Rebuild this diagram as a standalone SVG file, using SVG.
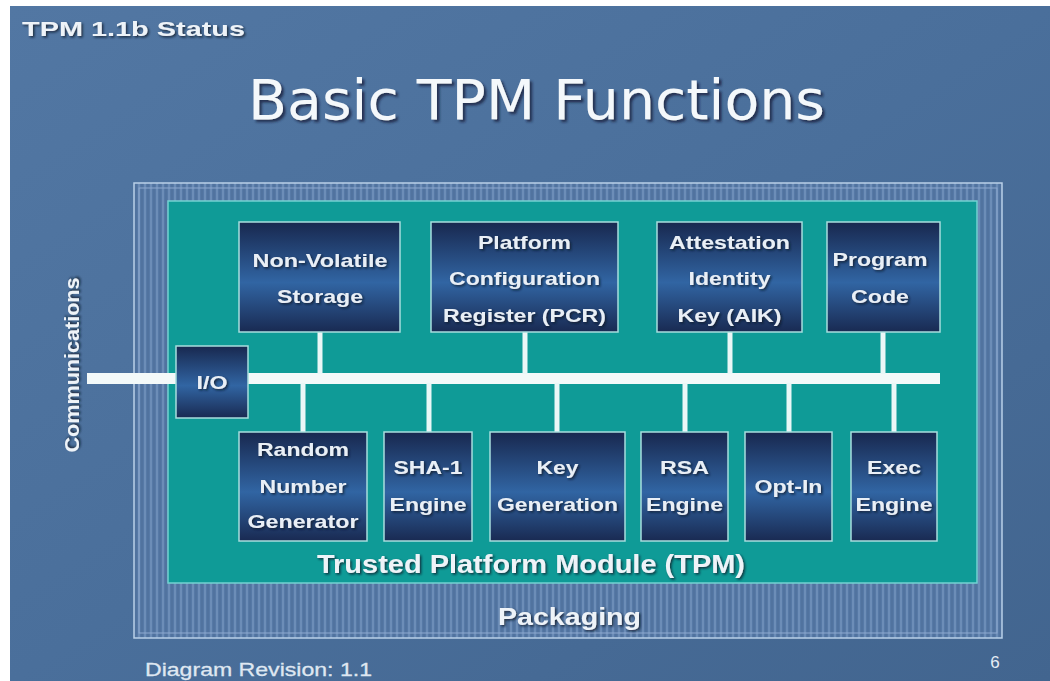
<svg xmlns="http://www.w3.org/2000/svg" width="1050" height="681" viewBox="0 0 1050 681">
  <defs>
    <linearGradient id="bg" x1="0" y1="0" x2="1" y2="1">
      <stop offset="0" stop-color="#5277a3"/>
      <stop offset="0.5" stop-color="#4a6f9b"/>
      <stop offset="1" stop-color="#42658f"/>
    </linearGradient>
    <linearGradient id="boxg" x1="0" y1="0" x2="0" y2="1">
      <stop offset="0" stop-color="#18284f"/>
      <stop offset="0.55" stop-color="#3165a3"/>
      <stop offset="1" stop-color="#192a52"/>
    </linearGradient>
    <pattern id="stripes" width="6" height="6" patternUnits="userSpaceOnUse">
      <rect width="6" height="6" fill="#5679a6"/>
      <line x1="1" y1="0" x2="1" y2="6" stroke="#82a1c8" stroke-width="1"/>
      <line x1="4" y1="0" x2="4" y2="6" stroke="#4b6d98" stroke-width="1"/>
    </pattern>
    <filter id="sh" x="-10%" y="-20%" width="120%" height="150%">
      <feDropShadow dx="1.5" dy="1.5" stdDeviation="0.8" flood-color="#0a1428" flood-opacity="0.8"/>
    </filter>
    <filter id="tsh" x="-5%" y="-20%" width="110%" height="150%">
      <feDropShadow dx="2.5" dy="2.5" stdDeviation="1.2" flood-color="#14243c" flood-opacity="0.8"/>
    </filter>
  </defs>
  <style>
    .box { fill: url(#boxg); stroke: #a8dede; stroke-width: 1.5; }
    .lbl { font-family: "Liberation Sans", Arial, sans-serif; font-weight: bold; font-size: 19px; fill: #e9eff6; text-anchor: middle; filter: url(#sh); }
    .big { font-family: "Liberation Sans", Arial, sans-serif; font-weight: bold; fill: #eef3f8; filter: url(#sh); }
    .conn { stroke: #eaf7f7; stroke-width: 5; fill: none; }
  </style>

  <rect x="0" y="0" width="1050" height="681" fill="#ffffff"/>
  <rect x="10" y="6" width="1040" height="675" fill="url(#bg)"/>

  <text class="big" x="22" y="36" font-size="21" textLength="223" lengthAdjust="spacingAndGlyphs">TPM 1.1b Status</text>
  <text x="248" y="119" font-family="DejaVu Sans, Verdana, sans-serif" font-size="56" fill="#f4f8fb" filter="url(#tsh)" textLength="577" lengthAdjust="spacingAndGlyphs">Basic TPM Functions</text>

  <g id="packaging">
    <rect x="134" y="183" width="868" height="455" fill="url(#stripes)" stroke="#b9d0e8" stroke-width="1.5"/>
    <rect x="139" y="188" width="858" height="445" fill="none" stroke="#8eaad0" stroke-width="1"/>
    <text class="big" x="569.5" y="625" font-size="23" text-anchor="middle" textLength="143" lengthAdjust="spacingAndGlyphs">Packaging</text>
  </g>

  <g id="tpm">
    <rect x="168" y="201" width="809" height="382" fill="#0f9b97" stroke="#74d2d2" stroke-width="1.5"/>
    <text class="big" x="531" y="573" font-size="25" text-anchor="middle" textLength="428" lengthAdjust="spacingAndGlyphs">Trusted Platform Module (TPM)</text>
  </g>

  <g id="connectors">
    <rect x="87" y="373" width="853" height="11" fill="#f3f9f9"/>
    <line class="conn" x1="320" y1="332" x2="320" y2="374"/>
    <line class="conn" x1="525" y1="332" x2="525" y2="374"/>
    <line class="conn" x1="730" y1="332" x2="730" y2="374"/>
    <line class="conn" x1="883" y1="332" x2="883" y2="374"/>
    <line class="conn" x1="303" y1="383" x2="303" y2="432"/>
    <line class="conn" x1="429" y1="383" x2="429" y2="432"/>
    <line class="conn" x1="557" y1="383" x2="557" y2="432"/>
    <line class="conn" x1="685" y1="383" x2="685" y2="432"/>
    <line class="conn" x1="789" y1="383" x2="789" y2="432"/>
    <line class="conn" x1="894" y1="383" x2="894" y2="432"/>
  </g>

  <text class="big" font-size="21" text-anchor="middle" transform="translate(79 365) rotate(-90)" textLength="175" lengthAdjust="spacingAndGlyphs">Communications</text>

  <g id="io">
    <rect class="box" x="176" y="346" width="72" height="72"/>
    <text class="lbl" x="212" y="389" textLength="31" lengthAdjust="spacingAndGlyphs">I/O</text>
  </g>

  <g id="nvs">
    <rect class="box" x="239" y="222" width="161" height="110"/>
    <text class="lbl" x="320" y="267" textLength="135" lengthAdjust="spacingAndGlyphs">Non-Volatile</text>
    <text class="lbl" x="320" y="303" textLength="86" lengthAdjust="spacingAndGlyphs">Storage</text>
  </g>

  <g id="pcr">
    <rect class="box" x="431" y="222" width="187" height="110"/>
    <text class="lbl" x="524.5" y="249" textLength="93" lengthAdjust="spacingAndGlyphs">Platform</text>
    <text class="lbl" x="524.5" y="285" textLength="151" lengthAdjust="spacingAndGlyphs">Configuration</text>
    <text class="lbl" x="524.5" y="322" textLength="163" lengthAdjust="spacingAndGlyphs">Register (PCR)</text>
  </g>

  <g id="aik">
    <rect class="box" x="657" y="222" width="145" height="110"/>
    <text class="lbl" x="729.5" y="249" textLength="121" lengthAdjust="spacingAndGlyphs">Attestation</text>
    <text class="lbl" x="729.5" y="285" textLength="82" lengthAdjust="spacingAndGlyphs">Identity</text>
    <text class="lbl" x="729.5" y="322" textLength="104" lengthAdjust="spacingAndGlyphs">Key (AIK)</text>
  </g>

  <g id="program-code">
    <rect class="box" x="827" y="222" width="113" height="110"/>
    <text class="lbl" x="880" y="266" textLength="95" lengthAdjust="spacingAndGlyphs">Program</text>
    <text class="lbl" x="880" y="303" textLength="58" lengthAdjust="spacingAndGlyphs">Code</text>
  </g>

  <g id="rng">
    <rect class="box" x="239" y="432" width="128" height="109"/>
    <text class="lbl" x="303" y="456" textLength="92" lengthAdjust="spacingAndGlyphs">Random</text>
    <text class="lbl" x="303" y="493" textLength="87" lengthAdjust="spacingAndGlyphs">Number</text>
    <text class="lbl" x="303" y="528" textLength="111" lengthAdjust="spacingAndGlyphs">Generator</text>
  </g>

  <g id="sha1">
    <rect class="box" x="384" y="432" width="88" height="109"/>
    <text class="lbl" x="428" y="474" textLength="69" lengthAdjust="spacingAndGlyphs">SHA-1</text>
    <text class="lbl" x="428" y="511" textLength="77" lengthAdjust="spacingAndGlyphs">Engine</text>
  </g>

  <g id="keygen">
    <rect class="box" x="490" y="432" width="135" height="109"/>
    <text class="lbl" x="557.5" y="474" textLength="42" lengthAdjust="spacingAndGlyphs">Key</text>
    <text class="lbl" x="557.5" y="511" textLength="121" lengthAdjust="spacingAndGlyphs">Generation</text>
  </g>

  <g id="rsa">
    <rect class="box" x="641" y="432" width="87" height="109"/>
    <text class="lbl" x="684.5" y="474" textLength="49" lengthAdjust="spacingAndGlyphs">RSA</text>
    <text class="lbl" x="684.5" y="511" textLength="77" lengthAdjust="spacingAndGlyphs">Engine</text>
  </g>

  <g id="optin">
    <rect class="box" x="745" y="432" width="87" height="109"/>
    <text class="lbl" x="788.5" y="493" textLength="68" lengthAdjust="spacingAndGlyphs">Opt-In</text>
  </g>

  <g id="exec">
    <rect class="box" x="851" y="432" width="86" height="109"/>
    <text class="lbl" x="894" y="474" textLength="54" lengthAdjust="spacingAndGlyphs">Exec</text>
    <text class="lbl" x="894" y="511" textLength="77" lengthAdjust="spacingAndGlyphs">Engine</text>
  </g>

  <text x="145" y="676" font-family="Liberation Sans, Arial, sans-serif" font-size="19" fill="#dfe7f1" stroke="#dfe7f1" stroke-width="0.3" textLength="227" lengthAdjust="spacingAndGlyphs">Diagram Revision: 1.1</text>
  <text x="995" y="668" font-family="Liberation Sans, Arial, sans-serif" font-size="17" fill="#e6edf5" text-anchor="middle">6</text>
</svg>
